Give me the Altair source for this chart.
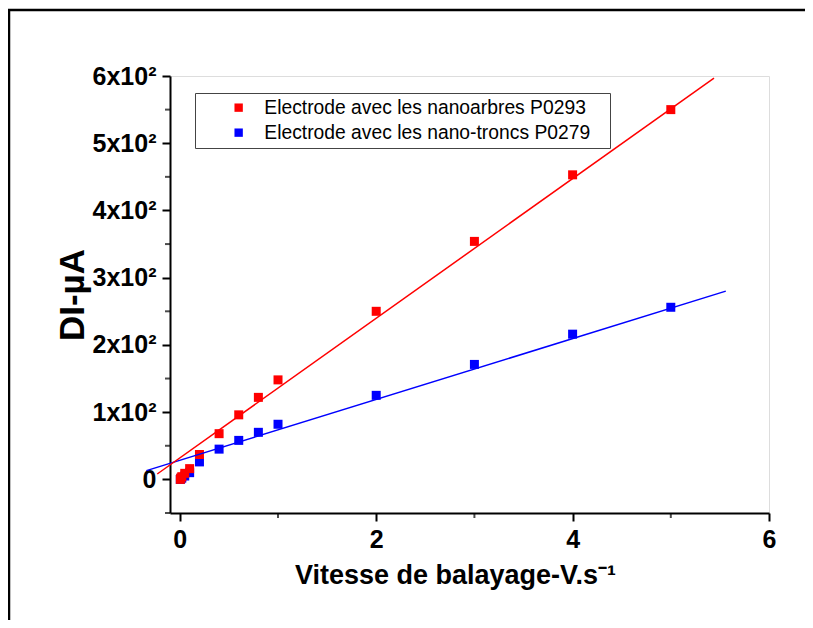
import altair as alt
import pandas as pd

# ---- data ----
scan_rate = [0.005, 0.01, 0.02, 0.05, 0.1, 0.2, 0.4, 0.6, 0.8, 1, 2, 3, 4, 5]
red_di = [0, 2, 4, 9, 16, 37, 68, 96, 122, 148, 250, 354, 453, 550]
blue_di = [0, 1, 2, 5, 10, 26, 45, 58, 70, 82, 125, 171, 216, 256]

red_fit_x = [-0.23, 5.44]
red_fit_y = [8, 597]
blue_fit_x = [-0.34, 5.56]
blue_fit_y = [13, 280]

series_names = ["Electrode avec les nanoarbres P0293",
                "Electrode avec les nano-troncs P0279"]
series_colors = ["#ff0000", "#0000ff"]

x_major = [0, 2, 4, 6]
x_minor = [1, 3, 5]
y_major = [0, 100, 200, 300, 400, 500, 600]
y_minor = [-50, 50, 150, 250, 350, 450, 550]

# ---- tables ----
pts = pd.concat([
    pd.DataFrame({"x": scan_rate, "y": blue_di, "s": series_names[1], "o": 0}),
    pd.DataFrame({"x": scan_rate, "y": red_di, "s": series_names[0], "o": 1}),
], ignore_index=True)
fits = pd.concat([
    pd.DataFrame({"x": blue_fit_x, "y": blue_fit_y, "s": series_names[1]}),
    pd.DataFrame({"x": red_fit_x, "y": red_fit_y, "s": series_names[0]}),
], ignore_index=True)

BOLD = "Liberation Sans, Arial"
REG = "Liberation Sans, Arial"
W, H = 599, 437

xs = alt.Scale(domain=[-0.1, 6], nice=False, zero=False)
ys = alt.Scale(domain=[-50, 600], nice=False, zero=False)
cs = alt.Scale(domain=series_names, range=series_colors)

pad = "\u2800"
color = alt.Color("s:N", scale=cs,
                  legend=alt.Legend(
                      title=None, orient="none", legendX=25, legendY=17,
                      symbolType="square", symbolSize=70, symbolStrokeWidth=0,
                      symbolOffset=29, labelOffset=16, labelFont=REG,
                      labelFontSize=19.3, labelColor="black", labelLimit=0,
                      padding=5, rowPadding=5, strokeColor="#444",
                      labelExpr="datum.label + '" + pad + "'"))

x_axis = alt.Axis(values=x_major, title="Vitesse de balayage-V.s\u207b\u00b9",
                  format="d", labelOverlap=False,
                  tickSize=8, tickWidth=2, domainWidth=2, labelFontSize=25,
                  labelFont=BOLD, labelFontWeight="bold", labelPadding=6,
                  titleFont=BOLD, titleFontSize=27, titleFontWeight="bold",
                  titlePadding=10, labelFlush=False, grid=False,
                  domainColor="black", tickColor="black", labelColor="black",
                  titleColor="black", orient="bottom", titleX=285)
y_axis = alt.Axis(values=y_major, title="DI-\u00b5A",
                  labelExpr="datum.value == 0 ? '0' : (datum.value / 100) + 'x10\u00b2'",
                  labelOverlap=False,
                  tickSize=8, tickWidth=2, domainWidth=2, labelFontSize=25,
                  labelFont=BOLD, labelFontWeight="bold", labelPadding=6,
                  titleFont=REG, titleFontSize=35, titleFontWeight="bold",
                  titlePadding=2, labelFlush=False, grid=False,
                  domainColor="black", tickColor="black", labelColor="black",
                  titleColor="black", orient="left")

points = alt.Chart(pts).mark_square(size=81, opacity=1, clip=False).encode(
    x=alt.X("x:Q", scale=xs, axis=x_axis),
    y=alt.Y("y:Q", scale=ys, axis=y_axis),
    color=color,
    order=alt.Order("o:Q"),
)

lines = alt.Chart(fits).mark_line(strokeWidth=1.5, clip=False).encode(
    x=alt.X("x:Q", scale=xs),
    y=alt.Y("y:Q", scale=ys),
    color=alt.Color("s:N", scale=cs, legend=None),
    detail="s:N",
)

minor_x = alt.Chart(pd.DataFrame({"x": x_minor})).mark_tick(
    color="black", size=5, thickness=2, orient="vertical").encode(
    x=alt.X("x:Q", scale=xs), y=alt.value(H + 2.5))
minor_y = alt.Chart(pd.DataFrame({"y": y_minor})).mark_tick(
    color="black", size=5, thickness=2, orient="horizontal").encode(
    y=alt.Y("y:Q", scale=ys), x=alt.value(-2.5))

frame_left = alt.Chart(pd.DataFrame({"a": [0]})).mark_rule(color="black", strokeWidth=2.5).encode(
    x=alt.value(-161), y=alt.value(-66), y2=alt.value(700))
frame_top = alt.Chart(pd.DataFrame({"a": [0]})).mark_rule(color="black", strokeWidth=2.5).encode(
    y=alt.value(-66), x=alt.value(-162), x2=alt.value(900))

chart = alt.layer(points, lines, minor_x, minor_y, frame_left, frame_top).properties(
    width=W, height=H,
    autosize=alt.AutoSizeParams(type="none"),
    padding={"left": 162, "top": 68, "right": 36, "bottom": 107},
).configure_view(stroke=None).configure(background="white")

chart.save("out.html", embed_options={"renderer": "svg", "actions": False})
